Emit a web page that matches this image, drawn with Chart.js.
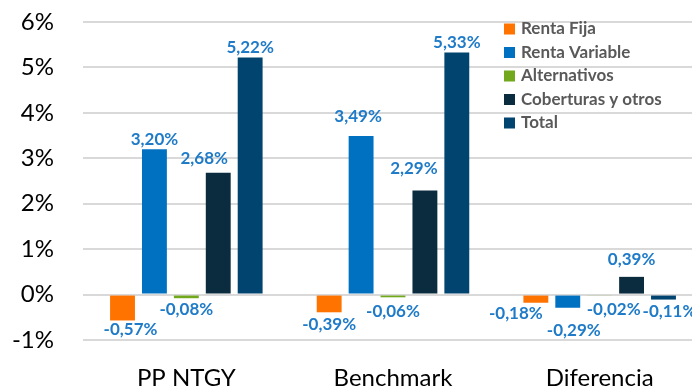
<!DOCTYPE html>
<html><head><meta charset="utf-8">
<script src="https://cdn.jsdelivr.net/npm/chart.js@4/dist/chart.umd.min.js"></script>
<style>
html,body{margin:0;padding:0;overflow:hidden;background:#fff;width:692px;height:389px}
#wrap{position:absolute;left:0;top:0;width:704px;height:389px}
</style></head>
<body>
<div id="wrap"><canvas id="c" width="704" height="389"></canvas></div>
<script>
const categories = ['PP NTGY', 'Benchmark', 'Diferencia'];
const seriesNames = ['Renta Fija', 'Renta Variable', 'Alternativos', 'Coberturas y otros', 'Total'];
const rentaFija = [-0.57, -0.39, -0.18];
const rentaVariable = [3.20, 3.49, -0.29];
const alternativos = [-0.08, -0.06, -0.02];
const coberturas = [2.68, 2.29, 0.39];
const total = [5.22, 5.33, -0.11];
const yTicks = [-1, 0, 1, 2, 3, 4, 5, 6];

const colors = ['#FF7300', '#0070C0', '#72A81C', '#0B2C3F', '#00446F'];
const seriesData = [rentaFija, rentaVariable, alternativos, coberturas, total];

// label nudges [dx, dy] keyed "dataset-index" (style only)
const labelNudge = {
  '0-0': [8, -5], '2-0': [0, -3],
  '0-1': [0, -2],
  '3-0': [-14, -4], '1-1': [-3, -10], '3-1': [-11, -12],
  '0-2': [-20, -3], '1-2': [6, 9], '2-2': [14, 0], '3-2': [0, -7], '4-2': [6, -2]
};

const fmt = v => v.toFixed(2).replace('.', ',') + '%';

const labelPlugin = {
  id: 'barLabels',
  afterDatasetsDraw(chart) {
    const ctx = chart.ctx;
    ctx.save();
    ctx.font = 'bold 17px Lato';
    ctx.fillStyle = '#1F7BC8';
    ctx.textAlign = 'center';
    ctx.textBaseline = 'middle';
    chart.data.datasets.forEach((ds, di) => {
      const meta = chart.getDatasetMeta(di);
      meta.data.forEach((bar, i) => {
        const v = ds.data[i];
        const n = labelNudge[di + '-' + i] || [0, 0];
        const y = v >= 0 ? bar.y - 10 : bar.y + 14;
        ctx.fillText(fmt(v), bar.x + n[0], y + n[1]);
      });
    });
    ctx.restore();
  }
};

const legendPlugin = {
  id: 'customLegend',
  afterDraw(chart) {
    const ctx = chart.ctx;
    ctx.save();
    ctx.font = 'bold 17px Lato';
    ctx.textBaseline = 'middle';
    ctx.textAlign = 'left';
    chart.data.datasets.forEach((ds, i) => {
      const cy = 29 + i * 23.5;
      ctx.fillStyle = ds.backgroundColor;
      ctx.fillRect(504, cy - 5.5, 11, 11);
      ctx.fillStyle = '#595959';
      ctx.fillText(ds.label, 521, cy);
    });
    ctx.restore();
  }
};

new Chart(document.getElementById('c'), {
  type: 'bar',
  data: {
    labels: categories,
    datasets: seriesNames.map((name, i) => ({
      label: name,
      data: seriesData[i],
      backgroundColor: colors[i],
      borderWidth: 0,
      categoryPercentage: 0.772,
      barPercentage: 0.78
    }))
  },
  options: {
    responsive: false,
    animation: false,
    layout: { padding: { top: 22, right: 1, left: 0, bottom: 0 } },
    plugins: { legend: { display: false }, tooltip: { enabled: false } },
    scales: {
      x: {
        grid: { display: false },
        border: { display: false },
        ticks: { color: '#000', font: { family: 'Lato', size: 24 }, padding: 16 },
        afterFit(s) { s.height = 49; s.paddingLeft = 0; s.paddingRight = 0; }
      },
      y: {
        min: -1, max: 6,
        afterBuildTicks(s) { s.ticks = yTicks.map(v => ({ value: v })); },
        grid: { color: '#D9D9D9', lineWidth: 2, drawTicks: false },
        border: { display: false },
        ticks: { color: '#000', font: { family: 'Lato', size: 24 }, padding: 29, callback: v => v + '%' },
        afterFit(s) { s.width = 83; s.paddingTop = 0; s.paddingBottom = 0; }
      }
    }
  },
  plugins: [labelPlugin, legendPlugin]
});
</script>
</body></html>
